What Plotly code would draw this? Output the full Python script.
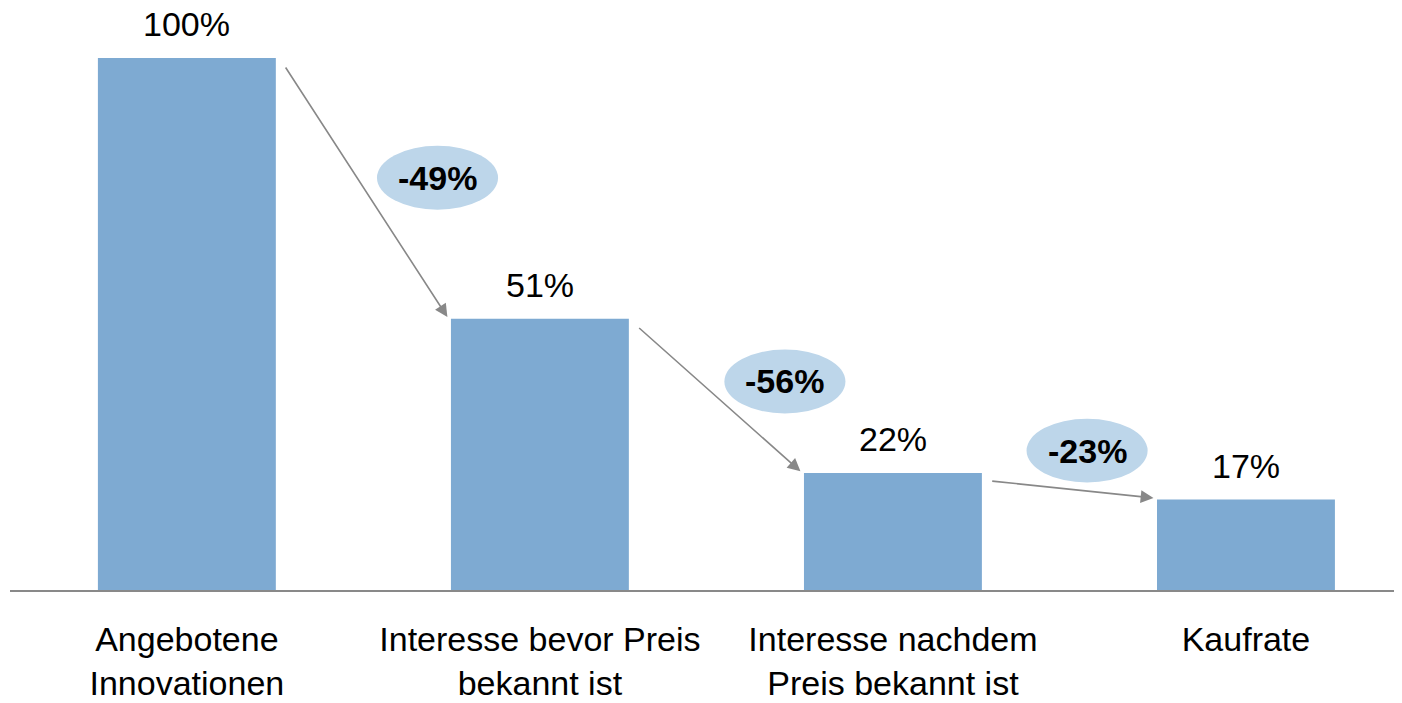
import plotly.graph_objects as go

categories = ["Angebotene<br>Innovationen", "Interesse bevor Preis<br>bekannt ist",
              "Interesse nachdem<br>Preis bekannt ist", "Kaufrate"]
values = [100, 51, 22, 17]
value_labels = ["100%", "51%", "22%", "17%"]
change_labels = ["-49%", "-56%", "-23%"]

BAR_COLOR = "#7eaad2"
BADGE_COLOR = "#bdd6ea"
ARROW_COLOR = "#888888"
FONT = "Liberation Sans, Arial, sans-serif"
BAR_W = 0.504
# badge positions (layout): offset from the gap between bars
BADGE_DX = [0.71, 0.694, 0.55]
BADGE_Y = [77.5, 39.2, 26.2]
BADGE_W = 0.343
BADGE_H = 12.0

xs = list(range(len(categories)))

fig = go.Figure()
fig.add_trace(go.Bar(x=xs, y=values, width=BAR_W, marker=dict(color=BAR_COLOR, line=dict(width=0)),
                     hoverinfo="skip"))

annotations = []
shapes = []
for i, (v, lab) in enumerate(zip(values, value_labels)):
    annotations.append(dict(x=i, y=v, xref="x", yref="y", text=lab, showarrow=False,
                            yanchor="bottom", yshift=13, font=dict(size=34, color="#000000", family=FONT)))

for i, lab in enumerate(change_labels):
    x0 = i + BAR_W / 2 + 0.025
    y0 = values[i] - 1.5
    x1 = i + 1 - BAR_W / 2 - 0.01
    y1 = values[i + 1] + 0.3
    annotations.append(dict(x=x1, y=y1, ax=x0, ay=y0, xref="x", yref="y", axref="x", ayref="y",
                            text="", showarrow=True, arrowhead=2, arrowsize=1.6, arrowwidth=1.6,
                            arrowcolor=ARROW_COLOR, standoff=0, startstandoff=0))
    cx = i + BADGE_DX[i]
    cy = BADGE_Y[i]
    shapes.append(dict(type="circle", xref="x", yref="y", x0=cx - BADGE_W / 2, x1=cx + BADGE_W / 2,
                       y0=cy - BADGE_H / 2, y1=cy + BADGE_H / 2, fillcolor=BADGE_COLOR,
                       line=dict(width=0), layer="above"))
    annotations.append(dict(x=cx, y=cy, xref="x", yref="y", text="<b>" + lab + "</b>", showarrow=False,
                            font=dict(size=34, color="#000000", family=FONT)))

fig.update_layout(
    width=1394, height=695,
    margin=dict(l=2, r=0, t=0, b=113),
    paper_bgcolor="white", plot_bgcolor="white",
    showlegend=False,
    annotations=annotations, shapes=shapes,
    xaxis=dict(range=[-0.501, 3.442], tickmode="array", tickvals=xs, ticktext=categories,
               showline=True, linecolor="#898989", linewidth=2, showgrid=False, zeroline=False,
               ticks="", tickfont=dict(size=34, color="#000000", family=FONT),
               ticklabelstandoff=18),
    yaxis=dict(range=[0, 109.4], visible=False, showgrid=False, zeroline=False),
    font=dict(family=FONT),
)

fig.write_html("out.html")
